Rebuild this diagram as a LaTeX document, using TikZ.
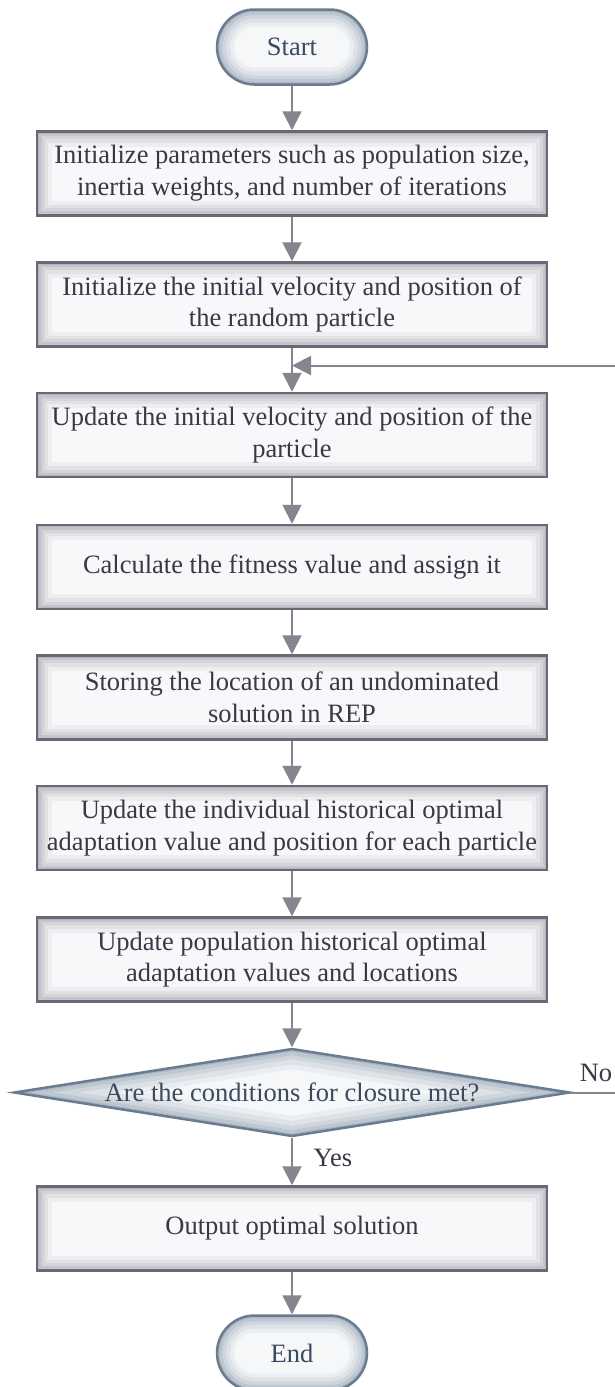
\documentclass[tikz,border=0pt]{standalone}
\usepackage{fontspec}
\setmainfont{Liberation Serif}
\newfontfamily\tnr{Liberation Serif}
\usetikzlibrary{arrows.meta,shapes.geometric}
\definecolor{boxc}{HTML}{6B6875}
\definecolor{boxglowc}{HTML}{7E7B8A}
\definecolor{boxfill}{HTML}{F8F8FA}
\definecolor{ovc}{HTML}{6A7C90}
\definecolor{ovglowc}{HTML}{6F8298}
\definecolor{ovfill}{HTML}{F5F7F9}
\definecolor{arrc}{HTML}{86848F}
\definecolor{boxtext}{HTML}{3A3846}
\definecolor{ovtext}{HTML}{3B4A5E}
\tikzset{
  fnt/.style={font=\tnr\fontsize{26.5}{31.7}\selectfont},
  procbox/.style={fnt, draw=boxc, line width=2.5pt, fill=boxfill, text=boxtext,
    minimum width=510pt, minimum height=84pt, inner sep=0pt, align=center,
    path picture={\foreach \w/\o in {30/0.08,22/0.10,15/0.13,9/0.17,4/0.24}{
      \draw[draw=boxglowc, line width=\w pt, draw opacity=\o]
        (path picture bounding box.south west) rectangle (path picture bounding box.north east);}}},
  termbox/.style={fnt, draw=ovc, line width=2.5pt, fill=ovfill, text=ovtext,
    rounded corners=37.5pt, minimum width=150pt, minimum height=75pt, inner sep=0pt,
    path picture={\foreach \w/\o in {34/0.08,26/0.10,18/0.13,11/0.17,5/0.24}{
      \draw[draw=ovglowc, line width=\w pt, draw opacity=\o, rounded corners=37.5pt]
        (path picture bounding box.south west) rectangle (path picture bounding box.north east);}}},
  decbox/.style={fnt, diamond, draw=ovc, line width=2.5pt, fill=ovfill, text=ovtext,
    minimum width=556pt, minimum height=88pt, inner sep=0pt,
    path picture={\foreach \w/\o in {40/0.08,30/0.10,20/0.13,12/0.17,5/0.24}{
      \draw[draw=ovglowc, line width=\w pt, draw opacity=\o]
        (path picture bounding box.north) -- (path picture bounding box.east) --
        (path picture bounding box.south) -- (path picture bounding box.west) -- cycle;}}},
  arr/.style={draw=arrc, line width=2pt, -{Triangle[length=19pt,width=19pt]}},
  lbl/.style={fnt, text=boxtext, inner sep=0pt}
}
\begin{document}
\begin{tikzpicture}[x=1pt,y=-1pt]
\useasboundingbox[fill=white] (0,0) rectangle (615,1387);
\node[termbox] (s) at (292,47) {Start};
\node[procbox] (b1) at (292,173.5) {Initialize parameters such as population size,\\inertia weights, and number of iterations};
\node[procbox] (b2) at (292,304.5) {Initialize the initial velocity and position of\\the random particle};
\node[procbox] (b3) at (292,435) {Update the initial velocity and position of the\\particle};
\node[procbox] (b4) at (292,567) {Calculate the fitness value and assign it};
\node[procbox] (b5) at (292,697.5) {Storing the location of an undominated\\solution in REP};
\node[procbox] (b6) at (292,828) {Update the individual historical optimal\\adaptation value and position for each particle};
\node[procbox] (b7) at (292,959.5) {Update population historical optimal\\adaptation values and locations};
\node[decbox] (d) at (292,1092.5) {\makebox[0pt]{Are the conditions for closure met?}};
\node[procbox] (b8) at (292,1228.5) {Output optimal solution};
\node[termbox] (e) at (292,1353) {End};
\node[lbl] (yes) at (333,1158) {Yes};
\node[lbl] (no) at (596,1073) {No};
\coordinate (r1) at (640,1092.5);
\coordinate (r2) at (640,365.5);
\coordinate (m) at (292,365.5);
\draw[arr] (s) -- (b1);
\draw[arr] (b1) -- (b2);
\draw[arr] (b2) -- (b3);
\draw[arr] (b3) -- (b4);
\draw[arr] (b4) -- (b5);
\draw[arr] (b5) -- (b6);
\draw[arr] (b6) -- (b7);
\draw[arr] (b7) -- (d);
\draw[arr] (d) -- (b8);
\draw[arr] (b8) -- (e);
\draw[arr] (d.east) -- (r1) -- (r2) -- (m);
\end{tikzpicture}
\end{document}
